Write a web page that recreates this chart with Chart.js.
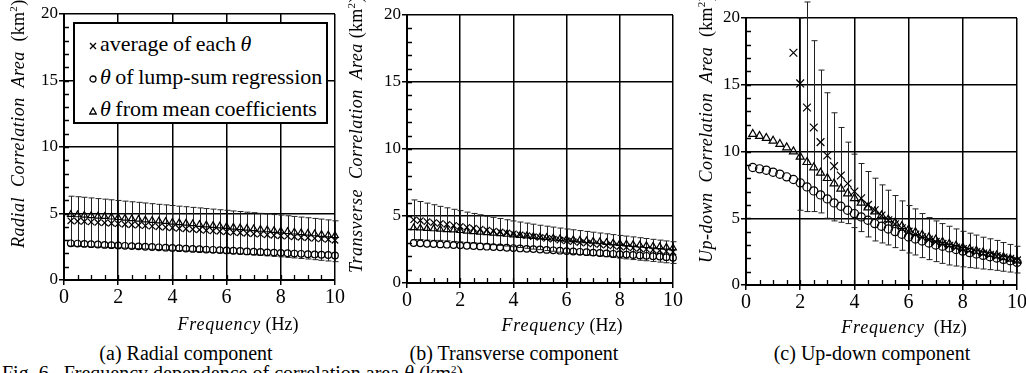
<!DOCTYPE html>
<html>
<head>
<meta charset="utf-8">
<script src="https://cdn.jsdelivr.net/npm/chart.js@4.4.1/dist/chart.umd.min.js"></script>
<style>
  html, body { margin: 0; padding: 0; background: #fff; }
  #page { position: relative; width: 1026px; height: 373px; overflow: hidden; font-family: "Liberation Serif", "DejaVu Serif", serif; color: #000; }
  canvas { position: absolute; top: 0; }
  .ytitle { position: absolute; white-space: nowrap; transform-origin: left top; transform: rotate(-90deg); font-size: 18px; line-height: 20px; height: 20px; letter-spacing: 0.3px; }
  .ytitle i { letter-spacing: 0.5px; }
  .xtitle { position: absolute; white-space: nowrap; font-size: 18px; line-height: 20px; transform: translateX(-50%); }
  .xtitle i { letter-spacing: 0.8px; }
  .cap { position: absolute; white-space: nowrap; font-size: 20px; line-height: 22px; transform: translateX(-50%); }
  sup { font-size: 11px; vertical-align: 7px; line-height: 0; }
  #legend { position: absolute; left: 73px; top: 22px; width: 251px; height: 98px; border: 2px solid #000; background: #fff; }
  .lg { position: absolute; left: 14px; white-space: nowrap; font-size: 22px; line-height: 24px; word-spacing: -1px; }
  .lg svg { vertical-align: 1px; margin-right: 3px; }
  #fig { position: absolute; left: 2px; top: 362px; white-space: nowrap; font-size: 20px; line-height: 22px; }
</style>
</head>
<body>
<div id="page">
  <canvas id="radial" width="350" height="316" style="left:0px"></canvas>
  <canvas id="transverse" width="340" height="316" style="left:345px"></canvas>
  <canvas id="updown" width="350" height="316" style="left:685px"></canvas>

  <div class="ytitle" style="left:8px; top:248px;"><i>Radial&nbsp; Correlation&nbsp; Area</i>&nbsp; (km<sup>2</sup>)</div>
  <div class="ytitle" style="left:346px; top:273px;"><i>Transverse&nbsp; Correlation&nbsp; Area</i>&nbsp;(km<sup>2</sup>)</div>
  <div class="ytitle" style="left:696px; top:263px;"><i>Up-down&nbsp; Correlation&nbsp; Area</i>&nbsp; (km<sup>2</sup>)</div>

  <div class="xtitle" style="left:238px; top:314px;"><i>Frequency</i> (Hz)</div>
  <div class="xtitle" style="left:562px; top:315px;"><i>Frequency</i> (Hz)</div>
  <div class="xtitle" style="left:904px; top:317px;"><i>Frequency</i>&nbsp; (Hz)</div>

  <div class="cap" style="left:186px; top:342px;">(a) Radial component</div>
  <div class="cap" style="left:514px; top:342px;">(b) Transverse component</div>
  <div class="cap" style="left:872px; top:342px;">(c) Up-down component</div>

  <div id="fig">Fig. 6.&nbsp; Frequency dependence of correlation area <i>θ</i> (km<sup>2</sup>)</div>

  <div id="legend">
    <div class="lg" style="top:8px;"><svg width="8" height="8"><path d="M1 1L7 7M7 1L1 7" stroke="#000" stroke-width="1.3"/></svg>average of each <i>θ</i></div>
    <div class="lg" style="top:41px;"><svg width="8" height="8"><circle cx="4" cy="4" r="3" fill="none" stroke="#000" stroke-width="1.3"/></svg><i>θ</i> of lump-sum regression</div>
    <div class="lg" style="top:73px;"><svg width="8" height="8"><path d="M4 1L7.3 7H0.7Z" fill="none" stroke="#000" stroke-width="1.3"/></svg><i>θ</i> from mean coefficients</div>
  </div>
</div>

<script>
  // frequency of each estimate (Hz)
  const freq = [0.25, 0.5, 0.75, 1, 1.25, 1.5, 1.75, 2, 2.25, 2.5,
    2.75, 3, 3.25, 3.5, 3.75, 4, 4.25, 4.5, 4.75, 5,
    5.25, 5.5, 5.75, 6, 6.25, 6.5, 6.75, 7, 7.25, 7.5,
    7.75, 8, 8.25, 8.5, 8.75, 9, 9.25, 9.5, 9.75, 10];

  const xTicks = [0, 2, 4, 6, 8, 10];
  const yTicks = [0, 5, 10, 15, 20];

  // (a) radial component, km^2
  const radialAvg = [4.45, 4.42, 4.40, 4.36, 4.33, 4.30, 4.26, 4.23, 4.19, 4.15,
    4.12, 4.08, 4.04, 4.00, 3.96, 3.92, 3.88, 3.85, 3.81, 3.77,
    3.73, 3.69, 3.66, 3.62, 3.58, 3.55, 3.51, 3.47, 3.44, 3.40,
    3.36, 3.32, 3.29, 3.25, 3.21, 3.17, 3.13, 3.09, 3.05, 2.98];
  const radialLump = [2.76, 2.74, 2.71, 2.69, 2.67, 2.64, 2.62, 2.60, 2.57, 2.55,
    2.53, 2.50, 2.48, 2.46, 2.43, 2.41, 2.39, 2.36, 2.34, 2.32,
    2.29, 2.27, 2.25, 2.22, 2.20, 2.18, 2.15, 2.13, 2.11, 2.08,
    2.06, 2.04, 2.01, 1.99, 1.97, 1.94, 1.92, 1.90, 1.88, 1.85];
  const radialMean = [4.92, 4.90, 4.87, 4.84, 4.80, 4.77, 4.73, 4.69, 4.65, 4.61,
    4.57, 4.52, 4.48, 4.44, 4.40, 4.35, 4.31, 4.27, 4.23, 4.18,
    4.14, 4.10, 4.06, 4.02, 3.97, 3.93, 3.89, 3.85, 3.81, 3.77,
    3.72, 3.68, 3.64, 3.60, 3.56, 3.51, 3.47, 3.43, 3.39, 3.34];
  const radialHi = [6.30, 6.26, 6.22, 6.17, 6.12, 6.08, 6.03, 5.98, 5.93, 5.88,
    5.84, 5.79, 5.74, 5.69, 5.65, 5.60, 5.55, 5.51, 5.46, 5.42,
    5.37, 5.33, 5.28, 5.24, 5.19, 5.15, 5.10, 5.06, 5.01, 4.97,
    4.92, 4.88, 4.83, 4.78, 4.73, 4.68, 4.63, 4.58, 4.52, 4.45];
  const radialLo = [2.55, 2.53, 2.52, 2.50, 2.48, 2.46, 2.44, 2.42, 2.40, 2.38,
    2.36, 2.34, 2.31, 2.29, 2.26, 2.24, 2.21, 2.18, 2.16, 2.13,
    2.10, 2.07, 2.04, 2.01, 1.98, 1.95, 1.92, 1.89, 1.85, 1.82,
    1.78, 1.74, 1.70, 1.66, 1.62, 1.58, 1.53, 1.48, 1.43, 1.38];

  // (b) transverse component
  const transAvg = [4.72, 4.66, 4.58, 4.51, 4.45, 4.38, 4.30, 4.23, 4.16, 4.09,
    4.02, 3.95, 3.88, 3.81, 3.74, 3.67, 3.60, 3.53, 3.46, 3.40,
    3.33, 3.27, 3.20, 3.14, 3.08, 3.02, 2.97, 2.92, 2.87, 2.82,
    2.77, 2.72, 2.67, 2.62, 2.57, 2.52, 2.47, 2.42, 2.37, 2.32];
  const transLump = [2.98, 2.96, 2.93, 2.91, 2.88, 2.86, 2.83, 2.81, 2.78, 2.76,
    2.73, 2.71, 2.68, 2.66, 2.63, 2.61, 2.58, 2.55, 2.53, 2.50,
    2.47, 2.44, 2.41, 2.38, 2.35, 2.33, 2.30, 2.27, 2.24, 2.21,
    2.18, 2.15, 2.12, 2.09, 2.06, 2.03, 2.00, 1.97, 1.93, 1.88];
  const transMean = [4.12, 4.10, 4.07, 4.04, 4.01, 3.98, 3.95, 3.91, 3.87, 3.83,
    3.79, 3.75, 3.71, 3.67, 3.63, 3.59, 3.55, 3.51, 3.47, 3.43,
    3.39, 3.35, 3.31, 3.27, 3.23, 3.19, 3.15, 3.11, 3.07, 3.03,
    2.99, 2.95, 2.91, 2.87, 2.83, 2.79, 2.75, 2.71, 2.67, 2.62];
  const transHi = [6.20, 6.08, 5.96, 5.84, 5.72, 5.61, 5.50, 5.40, 5.29, 5.19,
    5.09, 4.99, 4.90, 4.81, 4.72, 4.63, 4.55, 4.47, 4.39, 4.31,
    4.24, 4.17, 4.10, 4.03, 3.97, 3.91, 3.85, 3.79, 3.73, 3.67,
    3.61, 3.55, 3.50, 3.44, 3.38, 3.32, 3.26, 3.20, 3.14, 3.08];
  const transLo = [3.24, 3.24, 3.20, 3.18, 3.18, 3.15, 3.10, 3.06, 3.03, 2.99,
    2.95, 2.91, 2.86, 2.81, 2.76, 2.71, 2.65, 2.59, 2.53, 2.49,
    2.42, 2.37, 2.30, 2.25, 2.19, 2.13, 2.09, 2.05, 2.01, 1.97,
    1.90, 1.85, 1.80, 1.75, 1.70, 1.66, 1.61, 1.56, 1.51, 1.46];

  // (c) up-down component (points above 20 km^2 fall off the plot)
  const updownAvg = [null, null, null, null, null, null, 17.4, 15.1, 13.3, 11.8,
    10.7, 9.7, 8.9, 8.2, 7.6, 7.0, 6.5, 6.0, 5.6, 5.2,
    4.85, 4.55, 4.25, 4.0, 3.78, 3.58, 3.4, 3.23, 3.08, 2.94,
    2.81, 2.69, 2.58, 2.47, 2.36, 2.26, 2.16, 2.06, 1.96, 1.84];
  const updownLump = [8.8, 8.7, 8.6, 8.45, 8.3, 8.1, 7.9, 7.65, 7.35, 7.05,
    6.75, 6.45, 6.15, 5.9, 5.6, 5.35, 5.1, 4.85, 4.6, 4.4,
    4.2, 4.0, 3.8, 3.6, 3.45, 3.3, 3.15, 3.0, 2.9, 2.78,
    2.66, 2.54, 2.43, 2.32, 2.22, 2.12, 2.02, 1.92, 1.82, 1.7];
  const updownMean = [11.3, 11.15, 11.0, 10.8, 10.55, 10.3, 10.0, 9.6, 9.2, 8.8,
    8.4, 8.0, 7.6, 7.2, 6.85, 6.5, 6.15, 5.8, 5.5, 5.2,
    4.9, 4.65, 4.4, 4.15, 3.95, 3.75, 3.55, 3.38, 3.22, 3.07,
    2.93, 2.8, 2.67, 2.55, 2.43, 2.32, 2.2, 2.08, 1.96, 1.82];
  const updownHi = [null, null, null, null, null, null, null, 20, 21.2, 18.3,
    16.1, 14.4, 12.9, 11.8, 10.7, 9.8, 9.1, 8.5, 8.0, 7.5,
    7.1, 6.7, 6.3, 5.95, 5.7, 5.35, 5.05, 4.8, 4.6, 4.4,
    4.2, 4.02, 3.88, 3.74, 3.58, 3.46, 3.34, 3.18, 3.04, 2.9];
  const updownLo = [null, null, null, null, null, null, null, 5.6, 5.5, 5.5,
    5.4, 5.0, 4.8, 4.7, 4.6, 4.3, 4.0, 3.6, 3.3, 3.15,
    3.0, 2.8, 2.6, 2.4, 2.25, 2.05, 1.9, 1.75, 1.62, 1.5,
    1.42, 1.36, 1.3, 1.26, 1.2, 1.15, 1.1, 1.03, 0.97, 0.9];

  const FONT = '"Liberation Serif", "Times New Roman", serif';

  // vertical error bars with caps, drawn behind the markers and not clipped
  const errorBars = {
    id: 'errorBars',
    beforeDatasetsDraw(chart, args, opts) {
      const { ctx, scales: { x, y } } = chart;
      ctx.save();
      ctx.strokeStyle = '#222';
      ctx.lineWidth = 1;
      ctx.beginPath();
      freq.forEach(function (f, i) {
        if (opts.low[i] == null || opts.high[i] == null) return;
        const px = Math.round(x.getPixelForValue(f)) + 0.5;
        const yt = y.getPixelForValue(opts.high[i]);
        const yb = y.getPixelForValue(opts.low[i]);
        ctx.moveTo(px, yt); ctx.lineTo(px, yb);
        ctx.moveTo(px - 3, yt); ctx.lineTo(px + 3, yt);
        ctx.moveTo(px - 3, yb); ctx.lineTo(px + 3, yb);
      });
      ctx.stroke();
      ctx.restore();
    }
  };

  // small inward minor ticks: every 0.5 Hz and every 1 km^2
  const minorTicks = {
    id: 'minorTicks',
    afterDraw(chart) {
      const { ctx, chartArea: a, scales: { x, y } } = chart;
      ctx.save();
      ctx.strokeStyle = '#000';
      ctx.lineWidth = 1.3;
      ctx.beginPath();
      for (let v = 0.5; v < 10; v += 0.5) {
        const px = Math.round(x.getPixelForValue(v)) + 0.5;
        ctx.moveTo(px, a.bottom); ctx.lineTo(px, a.bottom - 5);
      }
      for (let v = 1; v < 20; v += 1) {
        const py = Math.round(y.getPixelForValue(v)) + 0.5;
        ctx.moveTo(a.left, py); ctx.lineTo(a.left + 5, py);
      }
      ctx.stroke();
      ctx.restore();
    }
  };

  function points(values) {
    const out = [];
    values.forEach(function (v, i) {
      if (v != null) out.push({ x: freq[i], y: v });
    });
    return out;
  }

  function series(values, style, radius) {
    return {
      data: points(values),
      pointStyle: style,
      pointRadius: radius,
      borderColor: '#000',
      backgroundColor: 'rgba(0,0,0,0)',
      pointBorderWidth: 1.2,
      showLine: false,
      clip: false
    };
  }

  function makePanel(id, p) {
    new Chart(document.getElementById(id), {
      type: 'scatter',
      data: {
        datasets: [
          series(p.avg, 'crossRot', p.rx),
          series(p.lump, 'circle', p.ro),
          series(p.mean, 'triangle', p.rt)
        ]
      },
      options: {
        responsive: false,
        animation: false,
        layout: { padding: { top: p.top, right: p.right, left: 0, bottom: 0 } },
        plugins: {
          legend: { display: false },
          tooltip: { enabled: false },
          errorBars: { low: p.lo, high: p.hi }
        },
        scales: {
          x: {
            type: 'linear',
            min: xTicks[0],
            max: xTicks[xTicks.length - 1],
            afterBuildTicks: function (s) { s.ticks = xTicks.map(function (v) { return { value: v }; }); },
            afterFit: function (s) { s.height = p.xh; },
            grid: { color: '#000', lineWidth: 1.5, tickLength: 5 },
            border: { color: '#000', width: 2 },
            ticks: { color: '#000', font: { family: FONT, size: 20 }, padding: 1, maxRotation: 0, autoSkip: false }
          },
          y: {
            min: yTicks[0],
            max: yTicks[yTicks.length - 1],
            afterBuildTicks: function (s) { s.ticks = yTicks.map(function (v) { return { value: v }; }); },
            afterFit: function (s) { s.width = p.yw; },
            grid: { color: '#000', lineWidth: 1.5, tickLength: 5 },
            border: { color: '#000', width: 2 },
            ticks: { color: '#000', font: { family: FONT, size: 17 }, padding: 1, autoSkip: false }
          }
        }
      },
      plugins: [errorBars, minorTicks]
    });
  }

  makePanel('radial', {
    avg: radialAvg, lump: radialLump, mean: radialMean, hi: radialHi, lo: radialLo,
    rx: 4.5, ro: 3.3, rt: 3.8, top: 14, right: 15, yw: 64, xh: 36
  });
  makePanel('transverse', {
    avg: transAvg, lump: transLump, mean: transMean, hi: transHi, lo: transLo,
    rx: 4.5, ro: 3.3, rt: 3.8, top: 15, right: 12, yw: 62, xh: 33
  });
  makePanel('updown', {
    avg: updownAvg, lump: updownLump, mean: updownMean, hi: updownHi, lo: updownLo,
    rx: 5.5, ro: 4.1, rt: 4.6, top: 18, right: 18, yw: 61, xh: 31
  });
</script>
</body>
</html>
